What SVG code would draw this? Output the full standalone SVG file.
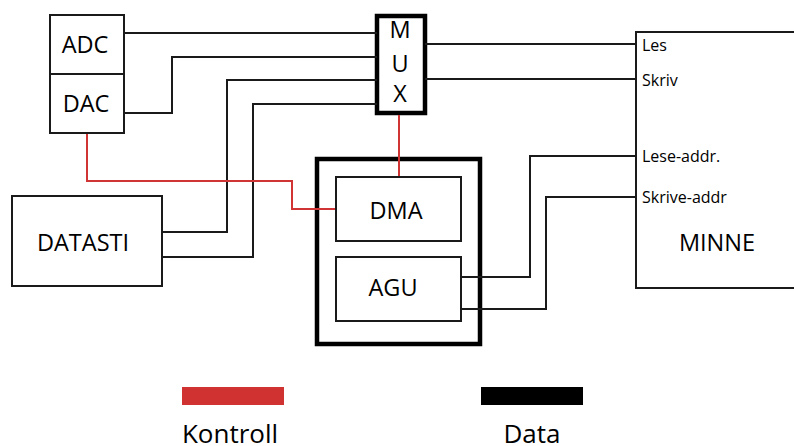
<svg xmlns="http://www.w3.org/2000/svg" width="794" height="446" viewBox="0 0 794 446">
<style>
.box{fill:#fff;stroke:#1a1a1a;stroke-width:2}
.thick{fill:none;stroke:#000;stroke-width:4.5}
.w{fill:none;stroke:#1a1a1a;stroke-width:2}
.r{fill:none;stroke:#d03434;stroke-width:2}
text{font-family:"Open Sans","Noto Sans",sans-serif;fill:#000}
.big{font-size:23.5px;text-anchor:middle}
.sm{font-size:16px}
.leg{font-size:26px;text-anchor:middle}
</style>
<rect x="0" y="0" width="794" height="446" fill="#fff"/>
<g id="adc-dac">
<rect class="box" x="50" y="15" width="74" height="118"/>
<line class="w" x1="50" y1="74" x2="124" y2="74"/>
<text class="big" x="85" y="53">ADC</text>
<text class="big" x="86" y="112">DAC</text>
</g>
<g id="mux">
<rect class="box" x="377" y="16" width="48" height="97" style="stroke:#000;stroke-width:4.5"/>
<text class="big" x="400" y="38">M</text>
<text class="big" x="400" y="72">U</text>
<text class="big" x="400" y="102">X</text>
</g>
<g id="datasti">
<rect class="box" x="12" y="196" width="150" height="90"/>
<text class="big" x="83" y="251">DATASTI</text>
</g>
<g id="dma-agu-unit">
<rect class="thick" x="317" y="159" width="163" height="185"/>
</g>
<g id="dma">
<rect class="box" x="336" y="177" width="125" height="64"/>
<text class="big" x="396" y="219">DMA</text>
</g>
<g id="agu">
<rect class="box" x="336" y="257" width="125" height="64"/>
<text class="big" x="393" y="296">AGU</text>
</g>
<g id="minne">
<path class="w" d="M800 32H636V288H800"/>
<text class="sm" x="642" y="51">Les</text>
<text class="sm" x="642" y="86">Skriv</text>
<text class="sm" x="642" y="162">Lese-addr.</text>
<text class="sm" x="642" y="203">Skrive-addr</text>
<text class="big" x="717" y="251">MINNE</text>
</g>
<g id="connectors">
<path class="w" d="M124 33H377"/>
<path class="w" d="M124 113H172V57H377"/>
<path class="w" d="M162 232H227V80H377"/>
<path class="w" d="M162 257H253V104H377"/>
<path class="w" d="M425 44H636"/>
<path class="w" d="M425 79H636"/>
<path class="w" d="M461 277H530V156H636"/>
<path class="w" d="M461 309H546V197H636"/>
<path class="r" d="M87 134V181H292V209H335"/>
<path class="r" d="M399 115V176"/>
</g>
<g id="legend">
<rect x="182" y="387" width="102" height="18" fill="#d03232"/>
<rect x="481" y="387" width="102" height="18" fill="#000"/>
<text class="leg" x="230" y="443">Kontroll</text>
<text class="leg" x="532" y="443">Data</text>
</g>
</svg>
